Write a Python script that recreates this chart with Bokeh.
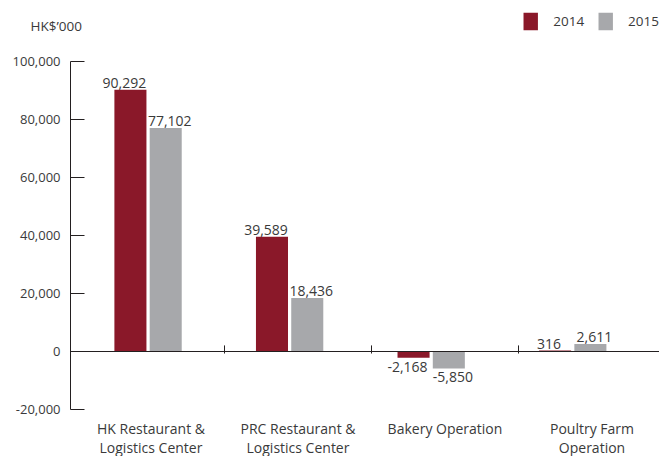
from bokeh.plotting import figure
from bokeh.models import (ColumnDataSource, FixedTicker, NumeralTickFormatter, Span,
                          Legend, LegendItem, Range1d)
from bokeh.embed import file_html
from bokeh.resources import INLINE
from bokeh.core.properties import value

categories = ["HK Restaurant &\nLogistics Center", "PRC Restaurant &\nLogistics Center",
              "Bakery Operation", "Poultry Farm\nOperation"]
years = ["2014", "2015"]
values_2014 = [90292, 39589, -2168, 316]
values_2015 = [77102, 18436, -5850, 2611]
y_ticks = [-20000, 0, 20000, 40000, 60000, 80000, 100000]

C2014 = "#8a1829"
C2015 = "#a7a8ab"
TXT = "#3a3a3a"
AX = "#231f20"
FONT = "Open Sans"

W, H = 659, 456
FRAME_TOP = 10          # px from top of canvas where the plot frame starts
UPP = 20000 / 58.0      # data units per pixel
ZERO_PX = 351           # canvas row of the zero line

n = len(categories)
idx = list(range(n))
centers = [0.48 + 0.963 * i for i in idx]
dodge = 0.12
bw = 0.218

p = figure(width=W, height=H, output_backend="svg", toolbar_location=None,
           x_range=Range1d(-7 / 147, (W - 77) / 147),
           y_range=Range1d(-(H - ZERO_PX) * UPP, (ZERO_PX - FRAME_TOP) * UPP),
           x_axis_location=None, min_border_left=70, min_border_right=0,
           min_border_top=FRAME_TOP, min_border_bottom=0)
p.outline_line_color = None
p.grid.visible = False

p.title.text = "HK$\u2019000"
p.title.align = "left"
p.title.offset = -40
p.title.standoff = -48
p.title.text_font = FONT
p.title.text_font_size = "13.5px"
p.title.text_font_style = "normal"
p.title.text_color = TXT

ax = p.yaxis[0]
ax.ticker = FixedTicker(ticks=y_ticks)
ax.bounds = (y_ticks[0], y_ticks[-1])
ax.formatter = NumeralTickFormatter(format="0,0")
ax.major_tick_in = 14
ax.major_tick_out = 0
ax.minor_tick_line_color = None
ax.axis_line_color = AX
ax.major_tick_line_color = AX
ax.major_label_text_font = FONT
ax.major_label_text_font_size = "13px"
ax.major_label_text_color = TXT
ax.major_label_standoff = 10

src14 = ColumnDataSource(dict(x=[c - dodge for c in centers], top=values_2014,
                              lab=[f"{v:,}" for v in values_2014]))
src15 = ColumnDataSource(dict(x=[c + dodge for c in centers], top=values_2015,
                              lab=[f"{v:,}" for v in values_2015]))
r14 = p.vbar(x="x", top="top", bottom=0, width=bw, source=src14, fill_color=C2014, line_color=None)
r15 = p.vbar(x="x", top="top", bottom=0, width=bw, source=src15, fill_color=C2015, line_color=None)

# zero line and category separators
p.add_layout(Span(location=0, dimension="width", line_color=AX, line_width=1))
p.segment(x0=idx[1:], x1=idx[1:], y0=[-700] * (n - 1), y1=[2100] * (n - 1),
          line_color=AX, line_width=1)

# value labels
for src, vals, xoff in ((src14, values_2014, -6), (src15, values_2015, 4)):
    for sign, baseline, off in ((1, "bottom", -2), (-1, "top", 4)):
        keep = [i for i in idx if (vals[i] >= 0) == (sign > 0)]
        s = ColumnDataSource(dict(x=[src.data["x"][i] for i in keep],
                                  y=[vals[i] for i in keep],
                                  t=[src.data["lab"][i] for i in keep]))
        p.text(x="x", y="y", text="t", source=s, text_align="center", text_baseline=baseline,
               x_offset=xoff, y_offset=off, text_font=value(FONT), text_font_size="14px",
               text_color=TXT)

# category labels
p.text(x=[i + 0.5 for i in idx], y=[-67 * UPP] * n, text=categories, text_align="center",
       text_baseline="top", text_font=value(FONT), text_font_size="14px",
       text_color=TXT, text_line_height=1.05)

legend = Legend(items=[LegendItem(label=years[0], renderers=[r14]),
                       LegendItem(label=years[1], renderers=[r15])],
                location="top_right", orientation="horizontal")
legend.glyph_width = 18
legend.glyph_height = 22
legend.label_standoff = 14
legend.spacing = 12
legend.padding = 0
legend.margin = 0
legend.border_line_color = None
legend.background_fill_alpha = 0
legend.label_text_font = FONT
legend.label_text_font_size = "13.5px"
legend.label_text_color = TXT
p.add_layout(legend)

open("out.html", "w").write(file_html(p, INLINE))
